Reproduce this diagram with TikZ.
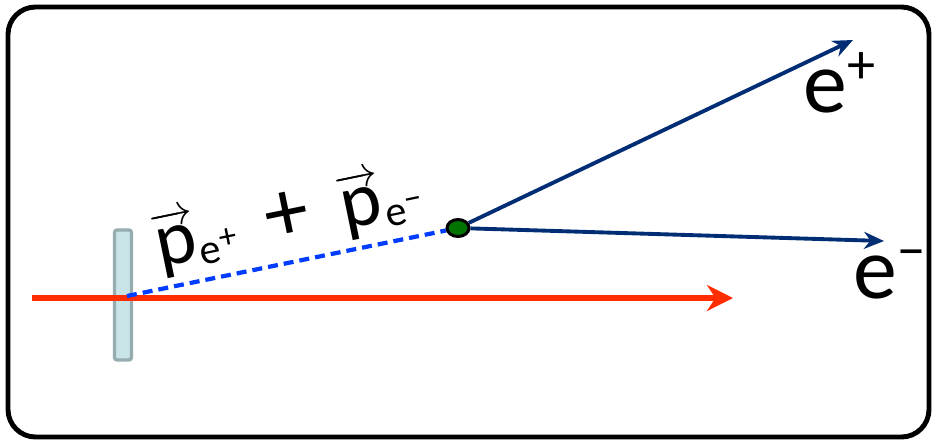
\documentclass[tikz,border=0pt]{standalone}
\usepackage{amsmath}
\usepackage{fontspec}
\setmainfont{Carlito}
\usepackage{tikz}
\usetikzlibrary{arrows.meta,positioning,shapes.geometric}
\usepackage{xcolor}

\definecolor{beamred}{RGB}{255,45,0}
\definecolor{trackblue}{RGB}{0,45,115}
\definecolor{dashblue}{RGB}{0,60,255}
\definecolor{tgtfill}{RGB}{200,228,230}
\definecolor{tgtedge}{RGB}{150,172,175}
\definecolor{vtxgreen}{RGB}{0,115,0}

% momentum of one lepton
\newcommand{\pmom}[1]{$\overrightarrow{\text{p}}$\raisebox{-4pt}{\fontsize{24}{24}\selectfont e\raisebox{7pt}{\fontsize{20}{20}\selectfont #1}}}

\begin{document}
\begin{tikzpicture}[x=0.02cm, y=-0.02cm,
  outerframe/.style={draw, line width=2.8pt, rounded corners=0.55cm},
  beam/.style={-{Stealth[length=0.52cm, width=0.52cm]}, draw=beamred, line width=3.3pt},
  track/.style={-{Stealth[length=0.4cm, width=0.34cm]}, draw=trackblue, line width=2.2pt},
  sumline/.style={draw=dashblue, line width=2.4pt, dash pattern=on 0.2cm off 0.12cm},
  tgtbox/.style={draw=tgtedge, fill=tgtfill, line width=1.9pt, rounded corners=1.5pt,
                 minimum width=0.34cm, minimum height=2.6cm, inner sep=0pt},
  vtxdot/.style={ellipse, draw, fill=vtxgreen, line width=1.7pt,
                 minimum width=0.44cm, minimum height=0.34cm, inner sep=0pt},
  elabel/.style={font=\fontsize{50}{60}\selectfont, inner sep=0pt, anchor=base west},
]
\useasboundingbox (0,0) rectangle (936,444);
\draw[outerframe] (8,7) rectangle (929,437);

\node[tgtbox] (tgt) at (123,295) {};
\coordinate (beamin) at (32,298);
\coordinate (beamout) at (733,298);
\draw[beam] (beamin) -- (beamout);

\node[vtxdot] (vtx) at (458,228) {};
\coordinate (hit) at (127,296);
\draw[sumline] (hit) -- node[pos=0.53, sloped, above=4pt, inner sep=0pt, font=\fontsize{44}{52}\selectfont]
  {\pmom{+}\hspace{18pt}{\fontsize{50}{50}\selectfont +}\hspace{18pt}\pmom{−}} (vtx);

\coordinate (eplus) at (853,40);
\coordinate (eminus) at (884,241);
\draw[track] (vtx) -- (eplus);
\draw[track] (vtx) -- (eminus);

\node[elabel] (lplus) at (803,112) {e\raisebox{16pt}{\fontsize{32}{32}\selectfont +}};
\node[elabel] (lminus) at (853,298) {e\raisebox{16pt}{\fontsize{32}{32}\selectfont −}};
\end{tikzpicture}
\end{document}
